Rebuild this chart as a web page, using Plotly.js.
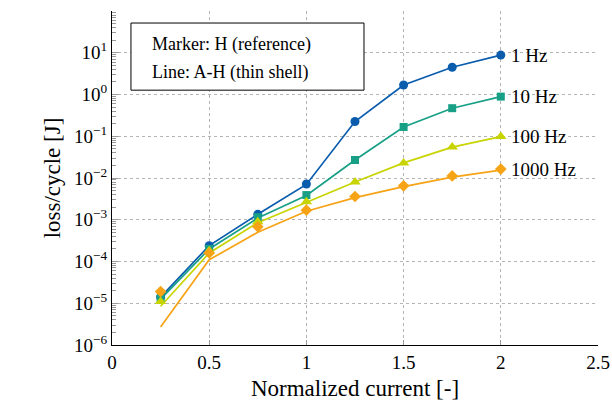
<!DOCTYPE html>
<html>
<head>
<meta charset="utf-8">
<script src="https://cdn.plot.ly/plotly-3.0.1.min.js"></script>
<style>html,body{margin:0;padding:0;background:#fff}#chart{width:612px;height:414px}</style>
</head>
<body>
<div id="chart"></div>
<script>
const current = [0.25, 0.5, 0.75, 1.0, 1.25, 1.5, 1.75, 2.0];
const freqLabels = ["1 Hz", "10 Hz", "100 Hz", "1000 Hz"];
const xTickVals = [0, 0.5, 1, 1.5, 2, 2.5];
const xTickText = ["0", "0.5", "1", "1.5", "2", "2.5"];
const yTickVals = [1e-6, 1e-5, 1e-4, 1e-3, 1e-2, 1e-1, 1, 10, 100];
const yTickText = ["10<sup>−6</sup>", "10<sup>−5</sup>", "10<sup>−4</sup>", "10<sup>−3</sup>", "10<sup>−2</sup>", "10<sup>−1</sup>", "10<sup>0</sup>", "10<sup>1</sup>", "10<sup>2</sup>"];
const minorMultipliers = [2, 3, 4, 5, 6, 7, 8, 9];

// Markers: H (reference)
const ref1 = [1.4e-5, 2.4e-4, 1.35e-3, 7.2e-3, 0.225, 1.69, 4.5, 8.8];
const ref10 = [1.3e-5, 2.0e-4, 1.15e-3, 3.9e-3, 0.027, 0.167, 0.47, 0.89];
const ref100 = [1.1e-5, 1.8e-4, 9.0e-4, 2.7e-3, 8.0e-3, 0.023, 0.055, 0.098];
const ref1000 = [1.9e-5, 1.6e-4, 6.8e-4, 1.7e-3, 3.6e-3, 6.5e-3, 0.0112, 0.0164];

// Lines: A-H (thin shell)
const ah1 = [1.4e-5, 2.4e-4, 1.35e-3, 7.0e-3, 0.225, 1.69, 4.5, 8.8];
const ah10 = [1.25e-5, 2.0e-4, 1.1e-3, 3.8e-3, 0.027, 0.167, 0.47, 0.89];
const ah100 = [8.5e-6, 1.6e-4, 8.5e-4, 2.6e-3, 8.0e-3, 0.023, 0.055, 0.098];
const ah1000 = [2.7e-6, 1.1e-4, 5.0e-4, 1.6e-3, 3.4e-3, 6.2e-3, 0.0105, 0.0155];

const colors = ["#0a5cad", "#17a086", "#c8d400", "#f6a316"];
const symbols = ["circle", "square", "triangle-up", "diamond"];
const msizes = [9, 8, 10, 9];
const refs = [ref1, ref10, ref100, ref1000];
const ahs = [ah1, ah10, ah100, ah1000];

const minorVals = [];
for (let e = -6; e < 2; e++) for (const m of minorMultipliers) minorVals.push(m * Math.pow(10, e));

const traces = [];
for (let i = 0; i < 4; i++) {
  traces.push({x: current, y: ahs[i], mode: "lines", line: {color: colors[i], width: 1.7}, showlegend: false, hoverinfo: "skip"});
}
for (let i = 0; i < 4; i++) {
  traces.push({x: current, y: refs[i], mode: "markers", marker: {color: colors[i], symbol: symbols[i], size: msizes[i]}, showlegend: false});
}
traces.push({x: [0], y: [1], yaxis: "y2", mode: "markers", marker: {opacity: 0}, showlegend: false, hoverinfo: "skip"});

const serif = "Liberation Serif";
const annotations = freqLabels.map((t, i) => ({
  x: current[current.length - 1], y: Math.log10(refs[i][refs[i].length - 1]),
  xref: "x", yref: "y", text: t, showarrow: false, xanchor: "left", xshift: 8,
  font: {family: serif, size: 19, color: "#000"}
}));
annotations.push({xref: "paper", yref: "paper", x: 0.078, y: 0.901, xanchor: "left", yanchor: "middle",
  text: "Marker: H (reference)", showarrow: false, font: {family: serif, size: 18, color: "#000"}});
annotations.push({xref: "paper", yref: "paper", x: 0.078, y: 0.817, xanchor: "left", yanchor: "middle",
  text: "Line: A-H (thin shell)", showarrow: false, font: {family: serif, size: 18, color: "#000"}});

const layout = {
  width: 612, height: 414,
  margin: {l: 112, r: 14, t: 11, b: 69},
  paper_bgcolor: "#fff", plot_bgcolor: "#fff",
  font: {family: serif, color: "#000"},
  xaxis: {
    range: [0, 2.5], tickvals: xTickVals, ticktext: xTickText,
    ticks: "inside", ticklen: 5, tickcolor: "#999", showline: true, linecolor: "#000", linewidth: 1,
    showgrid: true, gridcolor: "#b4b4b4", griddash: "dot", gridwidth: 1, zeroline: false,
    tickfont: {family: serif, size: 19, color: "#000"},
    title: {text: "Normalized current [-]", font: {family: serif, size: 23, color: "#000"}, standoff: 8}
  },
  yaxis: {
    type: "log", range: [-6, 2], tickvals: yTickVals, ticktext: yTickText,
    ticks: "inside", ticklen: 6, tickcolor: "#999", showline: true, linecolor: "#000", linewidth: 1,
    showgrid: true, gridcolor: "#b4b4b4", griddash: "dot", gridwidth: 1, zeroline: false,
    tickfont: {family: serif, size: 19, color: "#000"},
    title: {text: "loss/cycle [J]", font: {family: serif, size: 23, color: "#000"}, standoff: 6}
  },
  yaxis2: {
    type: "log", range: [-6, 2], overlaying: "y", side: "left", tickvals: minorVals,
    showticklabels: false, ticks: "inside", ticklen: 4, tickcolor: "#999",
    showgrid: false, zeroline: false, showline: false
  },
  shapes: [{type: "rect", xref: "paper", yref: "paper", x0: 0.039, x1: 0.5185, y0: 0.763, y1: 0.964,
    line: {color: "#000", width: 1}, fillcolor: "#fff", layer: "above"}],
  annotations: annotations
};

Plotly.newPlot("chart", traces, layout, {staticPlot: true, displayModeBar: false});
</script>
</body>
</html>
